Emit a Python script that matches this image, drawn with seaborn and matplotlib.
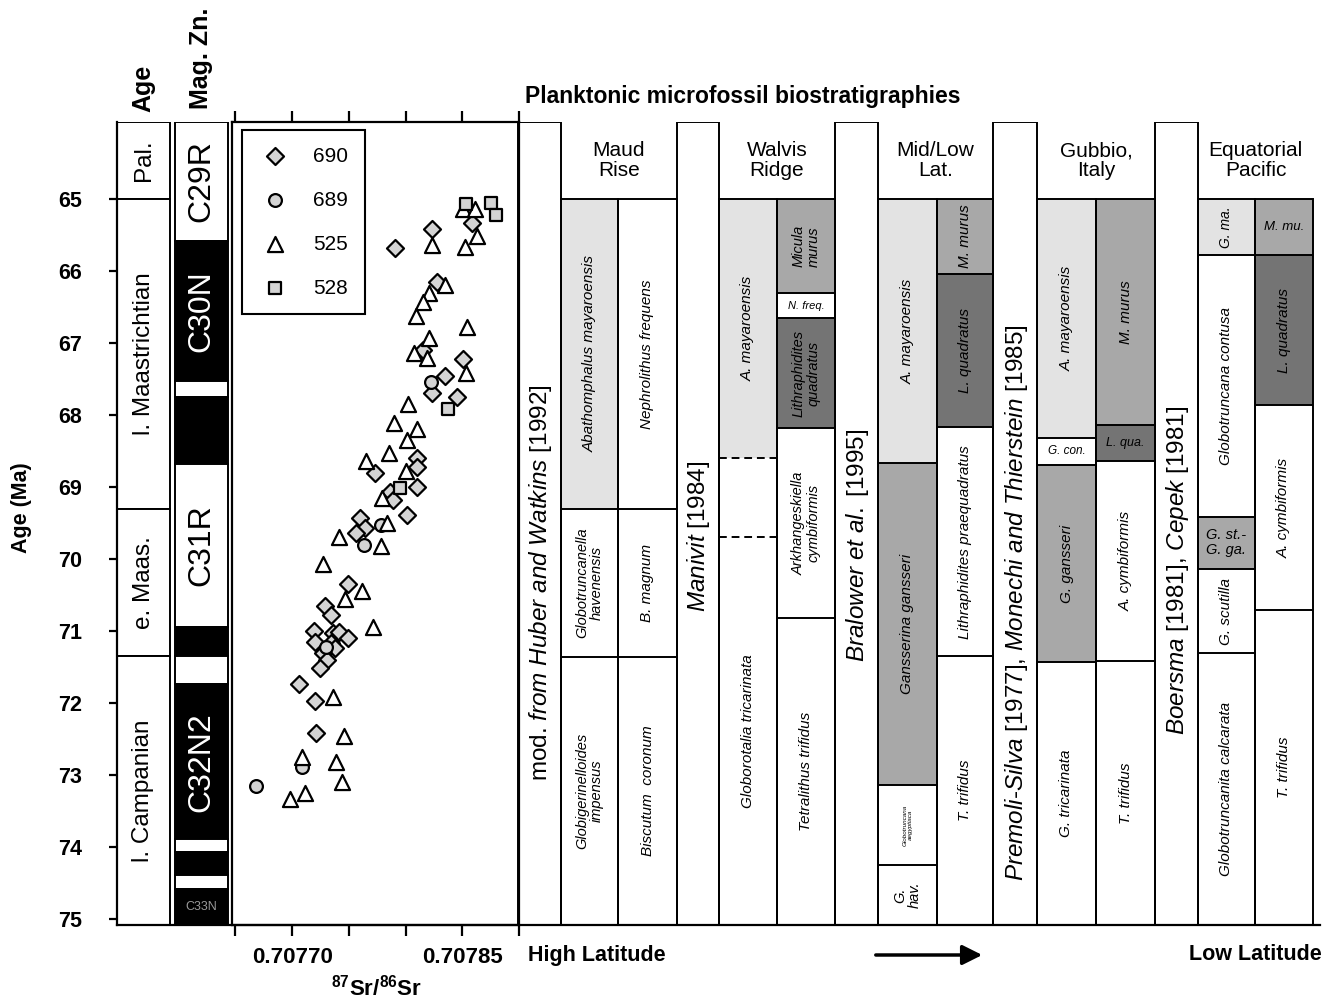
import numpy as np
import pandas as pd
import matplotlib.pyplot as plt
import seaborn as sns
from matplotlib.patches import Rectangle, FancyArrowPatch
from matplotlib import font_manager

sns.set_style("ticks")
names = {f.name for f in font_manager.fontManager.ttflist}
SANS = 'Liberation Sans' if 'Liberation Sans' in names else 'DejaVu Sans'
plt.rcParams['font.family'] = [SANS, 'DejaVu Sans']
plt.rcParams['mathtext.fontset'] = 'custom'
plt.rcParams['mathtext.rm'] = SANS
plt.rcParams['mathtext.it'] = SANS + ':italic'
plt.rcParams['mathtext.bf'] = SANS + ':bold'
for key in ['text.color', 'axes.labelcolor', 'xtick.color', 'ytick.color', 'axes.edgecolor']:
    plt.rcParams[key] = 'black'

# --- Sr isotope data (87Sr/86Sr vs age, Ma) ---
sr_690 = [0.707791, 0.707823, 0.707859, 0.707828, 0.707815, 0.707851, 0.707835, 0.707823,
          0.707845, 0.707810, 0.707810, 0.707773, 0.707810, 0.707786, 0.707789, 0.707801,
          0.707760, 0.707764, 0.707756, 0.707749, 0.707729, 0.707734, 0.707719, 0.707720,
          0.707736, 0.707741, 0.707749, 0.707734, 0.707738, 0.707727, 0.707731, 0.707725,
          0.707706, 0.707720, 0.707721]
age_690 = [65.68, 65.42, 65.33, 66.15, 67.10, 67.22, 67.46, 67.69, 67.75, 68.60, 68.72, 68.81,
           69.00, 69.07, 69.18, 69.39, 69.43, 69.57, 69.64, 70.35, 70.65, 70.78, 71.00, 71.15,
           71.03, 71.01, 71.10, 71.17, 71.24, 71.31, 71.40, 71.51, 71.74, 71.97, 72.42]

sr_689 = [0.707822, 0.707778, 0.707763, 0.707730, 0.707709, 0.707668]
age_689 = [67.54, 69.53, 69.81, 71.22, 72.88, 73.15]

sr_525 = [0.707851, 0.707861, 0.707863, 0.707852, 0.707823, 0.707835, 0.707821, 0.707815,
          0.707809, 0.707854, 0.707821, 0.707807, 0.707819, 0.707853, 0.707802, 0.707790,
          0.707810, 0.707801, 0.707785, 0.707765, 0.707800, 0.707779, 0.707784, 0.707741,
          0.707778, 0.707727, 0.707762, 0.707747, 0.707771, 0.707736, 0.707746, 0.707709,
          0.707739, 0.707744, 0.707711, 0.707698]
age_525 = [65.14, 65.14, 65.51, 65.67, 65.64, 66.19, 66.31, 66.43, 66.63, 66.78, 66.93, 67.14,
           67.21, 67.42, 67.85, 68.11, 68.19, 68.35, 68.53, 68.64, 68.78, 69.15, 69.50, 69.69,
           69.82, 70.07, 70.44, 70.56, 70.94, 71.92, 72.46, 72.75, 72.81, 73.10, 73.25, 73.33]

sr_528 = [0.707853, 0.707875, 0.707880, 0.707837, 0.707795]
age_528 = [65.07, 65.06, 65.22, 67.92, 69.01]

sites = ['690', '689', '525', '528']
sr_ticks = [0.70765, 0.70770, 0.70775, 0.70780, 0.70785, 0.70790]
sr_ticklabels = ['', '0.70770', '', '', '0.70785', '']
age_ticks = list(range(65, 76))

# --- Stages and magnetic polarity ---
stage_bounds = [65.0, 69.3, 71.35]
stage_names = ['Pal.', 'l. Maastrichtian', 'e. Maas.', 'l. Campanian']
chron_bounds = [65.58, 67.53, 67.75, 68.68, 70.94, 71.35, 71.74, 73.89, 74.06, 74.38, 74.58]
chron_normal = [0, 1, 0, 1, 0, 1, 0, 1, 0, 1, 0, 1]
chron_names = ['C29R', 'C30N', '', '', 'C31R', '', '', 'C32N2', '', '', '', 'C33N']

# --- Biostratigraphic zones: (base age, name, shade 0 white .. 3 dark) ---
maud_pf = [(69.3, 'Abathomphalus mayaroensis', 1), (71.36, 'Globotruncanella\nhavenensis', 0),
           (None, 'Globigerinelloides\nimpensus', 0)]
maud_nn = [(69.3, 'Nephrolithus frequens', 0), (71.36, 'B. magnum', 0), (None, 'Biscutum  coronum', 0)]
walvis_pf = [(68.6, 'A. mayaroensis', 1), (69.69, '', 0), (None, 'Globorotalia tricarinata', 0)]
walvis_nn = [(66.31, 'Micula\nmurus', 2), (66.65, 'N. freq.', 0), (68.18, 'Lithraphidites\nquadratus', 3),
             (70.82, 'Arkhangeskiella\ncymbiformis', 0), (None, 'Tetralithus trifidus', 0)]
midlow_pf = [(68.67, 'A. mayaroensis', 1), (73.14, 'Gansserina gansseri', 2),
             (74.25, 'Globotruncana\naegyptiaca', 0), (None, 'G.\nhav.', 0)]
midlow_nn = [(66.04, 'M. murus', 2), (68.17, 'L. quadratus', 3),
             (71.35, 'Lithraphidites praequadratus', 0), (None, 'T. trifidus', 0)]
gubbio_pf = [(68.32, 'A. mayaroensis', 1), (68.69, 'G. con.', 0), (71.43, 'G. gansseri', 2),
             (None, 'G. tricarinata', 0)]
gubbio_nn = [(68.14, 'M. murus', 2), (68.64, 'L. qua.', 3), (71.42, 'A. cymbiformis', 0),
             (None, 'T. trifidus', 0)]
eqpac_pf = [(65.78, 'G. ma.', 1), (69.42, 'Globotruncana contusa', 0), (70.13, 'G. st.-\nG. ga.', 2),
            (71.31, 'G. scutilla', 0), (None, 'Globotruncanita calcarata', 0)]
eqpac_nn = [(65.78, 'M. mu.', 2), (67.86, 'L. quadratus', 3), (70.71, 'A. cymbiformis', 0),
            (None, 'T. trifidus', 0)]
walvis_dashed = [68.6, 69.69]

regions = ['Maud\nRise', 'Walvis\nRidge', 'Mid/Low\nLat.', 'Gubbio,\nItaly', 'Equatorial\nPacific']
references = [r'mod. $\it{from\ Huber\ and\ Watkins}$ [1992]',
              r'$\it{Manivit}$ [1984]',
              r'$\it{Bralower\ et\ al.}$ [1995]',
              r'$\it{Premoli}$-$\it{Silva}$ [1977], $\it{Monechi\ and\ Thierstein}$ [1985]',
              r'$\it{Boersma}$ [1981], $\it{Cepek}$ [1981]']
reference_mid_age = [70.33, 69.69, 69.81, 70.6, 70.15]

# --- styling / layout ---
SHADES = {0: 'white', 1: '#e3e3e3', 2: '#a8a8a8', 3: '#747474'}
TOP, BASE = 63.93, 75.08
W, H = 1331, 1000
LW = 1.4
LABEL_STYLE = {
    'N. freq.': dict(rotation=0, size=8),
    'G. con.': dict(rotation=0, size=8.5),
    'L. qua.': dict(rotation=0, size=9),
    'M. mu.': dict(rotation=0, size=9.5),
    'G. st.-\nG. ga.': dict(rotation=0, size=10.5),
    'G. ma.': dict(size=10),
    'Globotruncana\naegyptiaca': dict(size=4.5),
    'G.\nhav.': dict(size=10.5),
    'Globotruncanella\nhavenensis': dict(size=10.5),
    'Globigerinelloides\nimpensus': dict(size=10.5),
    'Micula\nmurus': dict(size=10.5),
    'Lithraphidites\nquadratus': dict(size=10.5),
    'Arkhangeskiella\ncymbiformis': dict(size=10.5),
}


def box(x0, y0, x1, y1):
    return [x0 / W, 1 - y1 / H, (x1 - x0) / W, (y1 - y0) / H]


fig = plt.figure(figsize=(W / 100, H / 100), dpi=100)
ax = fig.add_axes(box(117, 122, 1320, 925))
ax.set_xlim(117, 1320)
ax.set_ylim(BASE, TOP)
for s in ['top', 'right']:
    ax.spines[s].set_visible(False)
for s in ['left', 'bottom']:
    ax.spines[s].set_linewidth(1.6)
ax.set_xticks([])
ax.set_yticks(age_ticks)
ax.set_yticklabels([str(a) for a in age_ticks], fontsize=15.5, fontweight='bold')
ax.tick_params(axis='y', direction='out', length=6, width=1.6, pad=19)

# age column
edges = [TOP] + stage_bounds + [BASE]
for i, name in enumerate(stage_names):
    t, b = edges[i], edges[i + 1]
    ax.add_patch(Rectangle((117, t), 53, b - t, facecolor='white', edgecolor='k', lw=LW, zorder=2))
    ax.text(143.5, (t + b) / 2, name, rotation=90, ha='center', va='center', fontsize=17.5, zorder=3)

# magnetic polarity column
edges = [TOP] + chron_bounds + [BASE]
for i, normal in enumerate(chron_normal):
    t, b = edges[i], edges[i + 1]
    ax.add_patch(Rectangle((175, t), 53, b - t, facecolor='black' if normal else 'white',
                           edgecolor='k', lw=LW, zorder=2))
    name = chron_names[i]
    if name == 'C33N':
        ax.text(201.5, (t + b) / 2, name, ha='center', va='center', fontsize=9, color='#9a9a9a', zorder=3)
    elif name:
        ax.text(201.5, (t + b) / 2, name, rotation=90, ha='center', va='center', fontsize=23,
                color='white' if normal else 'black', zorder=3)

# biostratigraphy panel
ref_x = [(518, 561), (677, 719), (835, 878), (993, 1037), (1155, 1198)]
for (x0, x1), label, mid in zip(ref_x, references, reference_mid_age):
    ax.add_patch(Rectangle((x0, TOP), x1 - x0, BASE - TOP, facecolor='white', edgecolor='k', lw=LW, zorder=2))
    ax.text((x0 + x1) / 2 + 1, mid, label, rotation=90, ha='center', va='center', fontsize=17.5, zorder=3)

hdr_x = [(561, 677), (719, 835), (878, 993), (1037, 1155), (1198, 1313)]
for (x0, x1), label in zip(hdr_x, regions):
    ax.text((x0 + x1) / 2, (TOP + 65.0) / 2, label, ha='center', va='center', fontsize=15,
            linespacing=1.05, zorder=3)

zone_columns = [((561, 618), maud_pf), ((618, 677), maud_nn), ((719, 777), walvis_pf),
                ((777, 835), walvis_nn), ((878, 937), midlow_pf), ((937, 993), midlow_nn),
                ((1037, 1096), gubbio_pf), ((1096, 1155), gubbio_nn), ((1198, 1255), eqpac_pf),
                ((1255, 1313), eqpac_nn)]

for (x0, x1), zones in zone_columns:
    dashed = walvis_dashed if zones is walvis_pf else []
    top = 65.0
    for base, label, shade in zones:
        b = BASE if base is None else base
        ax.add_patch(Rectangle((x0, top), x1 - x0, b - top, facecolor=SHADES[shade],
                               edgecolor='none', zorder=1))
        if base is not None:
            ls = (0, (4, 2.5)) if base in dashed else '-'
            ax.hlines(b, x0, x1, colors='k', linestyles=ls, lw=LW, zorder=3)
        if label:
            st = dict(rotation=90, size=11)
            st.update(LABEL_STYLE.get(label, {}))
            ax.text((x0 + x1) / 2, (top + b) / 2, label, ha='center', va='center',
                    style='italic', linespacing=1.1, zorder=4, **st)
        top = b
    ax.add_patch(Rectangle((x0, 65.0), x1 - x0, BASE - 65.0, facecolor='none',
                           edgecolor='k', lw=LW, zorder=3))

# Sr isotope scatter
df = pd.concat([
    pd.DataFrame({'sr': sr_690, 'age': age_690, 'site': '690'}),
    pd.DataFrame({'sr': sr_689, 'age': age_689, 'site': '689'}),
    pd.DataFrame({'sr': sr_525, 'age': age_525, 'site': '525'}),
    pd.DataFrame({'sr': sr_528, 'age': age_528, 'site': '528'}),
])
markers = {'690': 'D', '689': 'o', '525': '^', '528': 's'}
sizes = {'690': 75, '689': 85, '525': 118, '528': 82}
fills = {'690': '#d4d4d4', '689': '#d4d4d4', '525': 'white', '528': '#d4d4d4'}

ax_sr = fig.add_axes(box(232, 122, 519, 925))
ax_sr.patch.set_alpha(0)
for site in sites:
    sns.scatterplot(data=df[df['site'] == site], x='sr', y='age', marker=markers[site],
                    s=sizes[site], color=fills[site], edgecolor='black', linewidth=1.6,
                    ax=ax_sr, label=site, zorder=3)
ax_sr.set_xlim(0.707647, 0.70790)
ax_sr.set_ylim(BASE, TOP)
ax_sr.set_yticks([])
ax_sr.set_xlabel('')
ax_sr.set_ylabel('')
ax_sr.set_xticks(sr_ticks)
ax_sr.set_xticklabels(sr_ticklabels, fontsize=16, fontweight='bold')
ax_sr.tick_params(axis='x', direction='out', length=8, width=1.6, pad=8, top=True)
for s in ax_sr.spines.values():
    s.set_linewidth(1.6)

leg = ax_sr.legend(loc='upper left', bbox_to_anchor=(242 / W, 1 - 130 / H), bbox_transform=fig.transFigure,
                   borderaxespad=0, fontsize=15, labelspacing=1.2, borderpad=0.8,
                   handletextpad=1.0, handlelength=1.6, fancybox=False, framealpha=1,
                   edgecolor='black')
leg.get_frame().set_linewidth(1.5)

# figure texts
fig.text(22 / W, 1 - 508 / H, 'Age (Ma)', rotation=90, ha='center', va='center', fontsize=15.5, fontweight='bold')
fig.text(143 / W, 1 - 88 / H, 'Age', rotation=90, ha='center', va='center', fontsize=18, fontweight='bold')
fig.text(201 / W, 1 - 58 / H, 'Mag. Zn.', rotation=90, ha='center', va='center', fontsize=18, fontweight='bold')
fig.text(743 / W, 1 - 97 / H, 'Planktonic microfossil biostratigraphies', ha='center', va='center',
         fontsize=16.5, fontweight='bold')
fig.text(377 / W, 1 - 988 / H, r'$^{\mathbf{87}}$Sr/$^{\mathbf{86}}$Sr', ha='center', va='center',
         fontsize=16, fontweight='bold')
fig.text(528 / W, 1 - 955 / H, 'High Latitude', ha='left', va='center', fontsize=15.5, fontweight='bold')
fig.text(1322 / W, 1 - 955 / H, 'Low Latitude', ha='right', va='center', fontsize=15.5, fontweight='bold')
fig.add_artist(FancyArrowPatch((873 / W, 1 - 955 / H), (985 / W, 1 - 955 / H),
                               transform=fig.transFigure, arrowstyle='-|>',
                               mutation_scale=30, lw=2.5, color='black'))

fig.savefig('out.png', dpi=100, facecolor='white')
